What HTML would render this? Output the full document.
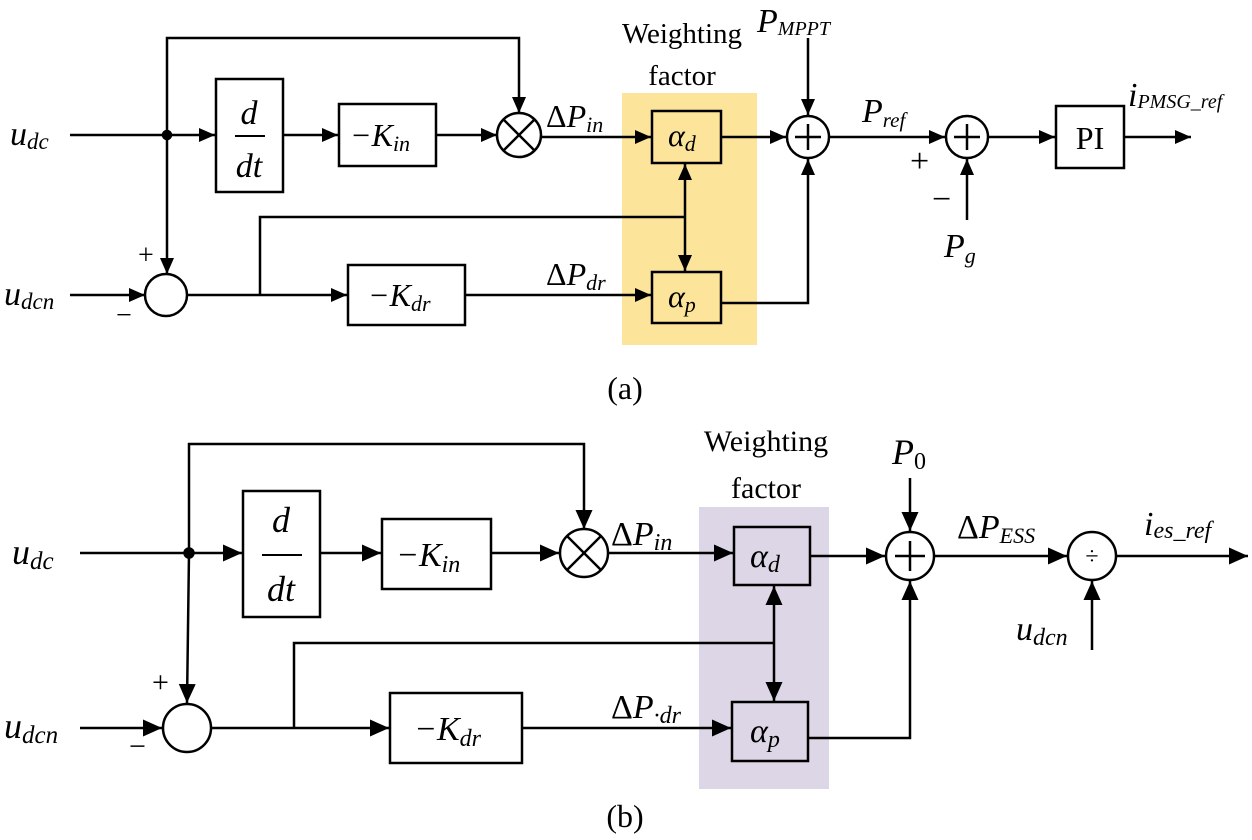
<!DOCTYPE html>
<html><head><meta charset="utf-8"><style>
html,body{margin:0;padding:0;background:#fff;}
svg{display:block;}
svg text{font-family:"Liberation Serif","DejaVu Serif",serif;fill:#000;}
.i{font-style:italic;}
</style></head><body>
<svg width="1252" height="840" viewBox="0 0 1252 840" xmlns="http://www.w3.org/2000/svg" font-family="Liberation Serif, DejaVu Serif, serif">
<defs>
<marker id="a" markerUnits="userSpaceOnUse" markerWidth="18" markerHeight="16" refX="16" refY="7" orient="auto"><path d="M0,0 L16,7 L0,14 Z" fill="#000"/></marker>
<marker id="b" markerUnits="userSpaceOnUse" markerWidth="22" markerHeight="20" refX="19" refY="8.5" orient="auto"><path d="M0,0 L19,8.5 L0,17 Z" fill="#000"/></marker>
</defs>
<g stroke="#000" stroke-width="2.5" fill="none">
<!-- ===== (a) ===== -->
<rect x="622" y="93" width="135" height="252" fill="#fde49b" stroke="none"/>
<line x1="70" y1="135" x2="215" y2="135" marker-end="url(#a)"/>
<circle cx="167" cy="135" r="4" fill="#000"/>
<polyline points="167,135 167,38 519,38 519,113" marker-end="url(#a)"/>
<line x1="167" y1="135" x2="167" y2="274" marker-end="url(#a)"/>
<rect x="216" y="79" width="67" height="113" fill="#fff"/>
<line x1="235" y1="136" x2="265" y2="136" stroke-width="2"/>
<line x1="283" y1="135" x2="338" y2="135" marker-end="url(#a)"/>
<rect x="339" y="104" width="97" height="62" fill="#fff"/>
<line x1="436" y1="135" x2="497" y2="135" marker-end="url(#a)"/>
<circle cx="519" cy="135" r="22" fill="#fff"/>
<line x1="503" y1="119" x2="535" y2="151"/><line x1="535" y1="119" x2="503" y2="151"/>
<line x1="541" y1="137" x2="651" y2="137" marker-end="url(#a)"/>
<rect x="652" y="111" width="69" height="52"/>
<line x1="70" y1="295" x2="145" y2="295" marker-end="url(#a)"/>
<circle cx="166" cy="295" r="21" fill="#fff"/>
<line x1="187" y1="295" x2="347" y2="295" marker-end="url(#a)"/>
<polyline points="260,295 260,217 685,217"/>
<rect x="348" y="265" width="117" height="60" fill="#fff"/>
<line x1="465" y1="295" x2="651" y2="295" marker-end="url(#a)"/>
<rect x="652" y="272" width="69" height="51"/>
<line x1="685" y1="217" x2="685" y2="164" marker-end="url(#a)"/>
<line x1="685" y1="217" x2="685" y2="271" marker-end="url(#a)"/>
<line x1="721" y1="137" x2="786" y2="137" marker-end="url(#a)"/>
<circle cx="808" cy="137" r="21" fill="#fff"/>
<line x1="808" y1="124" x2="808" y2="150"/><line x1="795" y1="137" x2="821" y2="137"/>
<line x1="808" y1="38" x2="808" y2="115" marker-end="url(#a)"/>
<polyline points="721,303 808,303 808,159" marker-end="url(#a)"/>
<line x1="829" y1="137" x2="945" y2="137" marker-end="url(#a)"/>
<circle cx="967" cy="137" r="21" fill="#fff"/>
<line x1="967" y1="124" x2="967" y2="150"/><line x1="954" y1="137" x2="980" y2="137"/>
<line x1="967" y1="220" x2="967" y2="159" marker-end="url(#a)"/>
<line x1="988" y1="137" x2="1055" y2="137" marker-end="url(#a)"/>
<rect x="1056" y="106" width="68" height="62"/>
<line x1="1124" y1="137" x2="1191" y2="137" marker-end="url(#a)"/>

<!-- ===== (b) ===== -->
<rect x="699" y="507" width="130" height="282" fill="#dcd6e6" stroke="none"/>
<line x1="80" y1="553" x2="242" y2="553" marker-end="url(#b)"/>
<circle cx="189" cy="553" r="4.5" fill="#000"/>
<polyline points="189,553 189,444 584,444 584,529" marker-end="url(#b)"/>
<line x1="189" y1="553" x2="187" y2="703" marker-end="url(#b)"/>
<rect x="243" y="491" width="77" height="126" fill="#fff"/>
<line x1="262" y1="555" x2="302" y2="555" stroke-width="2"/>
<line x1="320" y1="553" x2="381" y2="553" marker-end="url(#b)"/>
<rect x="382" y="519" width="109" height="70" fill="#fff"/>
<line x1="491" y1="553" x2="559" y2="553" marker-end="url(#b)"/>
<circle cx="584" cy="553" r="24" fill="#fff"/>
<line x1="567" y1="536" x2="601" y2="570"/><line x1="601" y1="536" x2="567" y2="570"/>
<line x1="608" y1="553" x2="733" y2="553" marker-end="url(#b)"/>
<rect x="734" y="527" width="76" height="58"/>
<line x1="80" y1="728" x2="162" y2="728" marker-end="url(#b)"/>
<circle cx="187" cy="728" r="24" fill="#fff"/>
<line x1="211" y1="728" x2="389" y2="728" marker-end="url(#b)"/>
<polyline points="294,728 294,643 774,643"/>
<rect x="390" y="693" width="132" height="70" fill="#fff"/>
<line x1="522" y1="728" x2="731" y2="728" marker-end="url(#b)"/>
<rect x="732" y="702" width="76" height="59"/>
<line x1="774" y1="643" x2="774" y2="586" marker-end="url(#b)"/>
<line x1="774" y1="643" x2="774" y2="701" marker-end="url(#b)"/>
<line x1="810" y1="556" x2="885" y2="556" marker-end="url(#b)"/>
<circle cx="910" cy="556" r="24" fill="#fff"/>
<line x1="910" y1="541" x2="910" y2="571"/><line x1="895" y1="556" x2="925" y2="556"/>
<line x1="910" y1="478" x2="910" y2="531" marker-end="url(#b)"/>
<polyline points="808,738 910,738 910,581" marker-end="url(#b)"/>
<line x1="934" y1="556" x2="1067" y2="556" marker-end="url(#b)"/>
<circle cx="1092" cy="556" r="24" fill="#fff"/>
<line x1="1092" y1="650" x2="1092" y2="581" marker-end="url(#b)"/>
<line x1="1116" y1="556" x2="1248" y2="556" marker-end="url(#b)"/>
</g>

<!-- text (a) -->
<text x="10" y="145" font-size="34" class="i">u<tspan font-size="23" dy="4">dc</tspan></text>
<text x="4" y="305" font-size="34" class="i">u<tspan font-size="23" dy="4">dcn</tspan></text>
<text x="138" y="264" font-size="28">+</text>
<text x="116" y="324" font-size="28">−</text>
<text x="249" y="124" font-size="34" class="i" text-anchor="middle">d</text>
<text x="249" y="177" font-size="34" class="i" text-anchor="middle">dt</text>
<text x="350" y="146" font-size="32" class="i">−K<tspan font-size="22" dy="5">in</tspan></text>
<text x="368" y="306" font-size="32" class="i">−K<tspan font-size="22" dy="5">dr</tspan></text>
<text x="546" y="127" font-size="32">Δ<tspan class="i">P</tspan><tspan class="i" font-size="22" dy="5">in</tspan></text>
<text x="546" y="285" font-size="32">Δ<tspan class="i">P</tspan><tspan class="i" font-size="22" dy="5">dr</tspan></text>
<text x="682" y="43" font-size="29" text-anchor="middle">Weighting</text>
<text x="682" y="85" font-size="29" text-anchor="middle">factor</text>
<text x="668" y="146" font-size="32" class="i">α<tspan font-size="22" dy="5">d</tspan></text>
<text x="668" y="307" font-size="32" class="i">α<tspan font-size="22" dy="5">p</tspan></text>
<text x="757" y="32" font-size="34" class="i">P<tspan font-size="20" dy="3">MPPT</tspan></text>
<text x="862" y="122" font-size="34" class="i">P<tspan font-size="21" dy="5">ref</tspan></text>
<text x="910" y="172" font-size="34">+</text>
<text x="932" y="210" font-size="34">−</text>
<text x="944" y="257" font-size="34" class="i">P<tspan font-size="22" dy="6">g</tspan></text>
<text x="1090" y="149" font-size="32" text-anchor="middle">PI</text>
<text x="1128" y="106" font-size="34" class="i">i<tspan font-size="20" dy="2">PMSG_ref</tspan></text>
<text x="625" y="399" font-size="32" text-anchor="middle">(a)</text>

<!-- text (b) -->
<text x="12" y="564" font-size="36" class="i">u<tspan font-size="25" dy="5">dc</tspan></text>
<text x="4" y="738" font-size="36" class="i">u<tspan font-size="25" dy="5">dcn</tspan></text>
<text x="152" y="692" font-size="30">+</text>
<text x="129" y="756" font-size="30">−</text>
<text x="281" y="532" font-size="36" class="i" text-anchor="middle">d</text>
<text x="281" y="601" font-size="36" class="i" text-anchor="middle">dt</text>
<text x="396" y="566" font-size="34" class="i">−K<tspan font-size="24" dy="6">in</tspan></text>
<text x="414" y="740" font-size="34" class="i">−K<tspan font-size="24" dy="6">dr</tspan></text>
<text x="611" y="545" font-size="34">Δ<tspan class="i">P</tspan><tspan class="i" font-size="24" dy="5">in</tspan></text>
<text x="611" y="718" font-size="34">Δ<tspan class="i">P</tspan><tspan class="i" font-size="24" dy="5">·dr</tspan></text>
<text x="766" y="451" font-size="30" text-anchor="middle">Weighting</text>
<text x="766" y="498" font-size="30" text-anchor="middle">factor</text>
<text x="750" y="567" font-size="34" class="i">α<tspan font-size="24" dy="5">d</tspan></text>
<text x="750" y="742" font-size="34" class="i">α<tspan font-size="24" dy="5">p</tspan></text>
<text x="892" y="464" font-size="36" class="i">P<tspan font-size="24" dy="5" font-style="normal">0</tspan></text>
<text x="957" y="538" font-size="34">Δ<tspan class="i">P</tspan><tspan class="i" font-size="22" dy="5">ESS</tspan></text>
<text x="1092" y="564" font-size="24" text-anchor="middle">÷</text>
<text x="1016" y="640" font-size="34" class="i">u<tspan font-size="24" dy="5">dcn</tspan></text>
<text x="1144" y="535" font-size="34" class="i">i<tspan font-size="24" dy="3">es_ref</tspan></text>
<text x="625" y="827" font-size="32" text-anchor="middle">(b)</text>
</svg>
</body></html>
